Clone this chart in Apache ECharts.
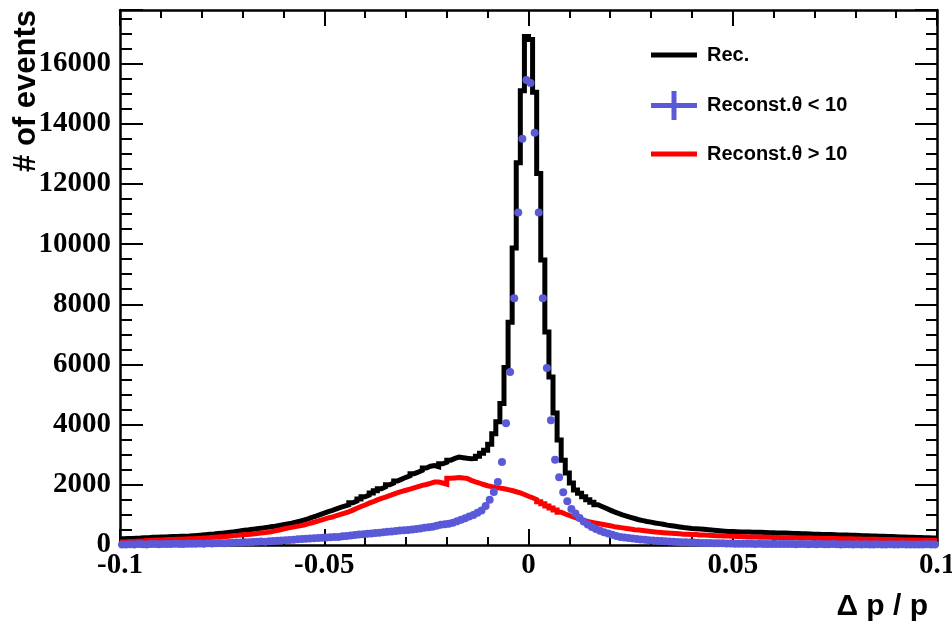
<!DOCTYPE html>
<html><head><meta charset="utf-8">
<script src="https://cdn.jsdelivr.net/npm/echarts@6/dist/echarts.min.js"></script>
<style>html,body{margin:0;padding:0;background:#fff}#c{width:952px;height:625px}</style>
</head><body><div id="c"></div>
<script>
// Histogram binning of Δp/p : 200 bins of width 0.001 from -0.1 to 0.1
const binStart = -0.1;
const binWidth = 0.001;

// "Rec." (black histogram)
const recCounts = [
 210,215,220,225,230,240,245,255,260,265,
 270,275,280,285,290,295,300,310,320,330,
 345,355,365,380,395,410,425,440,460,480,
 495,515,530,550,565,585,605,625,650,675,
 700,725,755,790,830,870,915,960,1010,1060,
 1110,1150,1200,1250,1290,1330,1400,1460,1530,1600,
 1660,1730,1800,1870,1930,2000,2060,2130,2190,2250,
 2300,2370,2420,2480,2560,2620,2640,2600,2700,2750,
 2820,2880,2920,2900,2880,2870,2880,2950,3050,3150,
 3350,3700,4100,4700,5900,7400,9870,12700,15100,16900,
 16800,15050,12350,9470,7080,5580,4390,3490,2820,2390,
 2060,1830,1720,1600,1500,1420,1340,1280,1220,1160,
 1100,1050,1000,960,920,880,840,810,780,760,
 730,710,690,660,640,620,600,580,565,550,
 540,530,520,510,495,485,470,460,450,445,
 440,435,430,430,425,420,420,415,410,405,
 400,400,395,390,385,380,375,370,365,360,
 355,350,345,345,340,335,330,330,325,320,
 315,310,305,300,300,295,290,285,280,275,
 270,265,260,255,250,250,245,240,235,230
];

// "Reconst.θ < 10" (blue points)
const lowThetaCounts = [
 20,15,25,20,30,25,20,30,35,25,
 30,35,30,40,35,30,40,45,40,50,
 45,55,50,60,65,60,70,75,80,85,
 90,95,100,105,115,110,125,130,140,150,
 160,170,175,190,200,205,215,225,230,240,
 250,255,265,270,290,300,315,330,345,360,
 375,385,400,410,425,440,450,465,480,490,
 500,515,530,550,570,590,610,640,670,690,
 710,740,790,840,890,950,1000,1070,1150,1300,
 1500,1760,2090,2760,4050,5750,8200,11050,13500,15450,
 15350,13700,11050,8200,5880,4150,2830,2250,1750,1450,
 1200,1050,900,780,680,600,530,470,420,380,
 340,300,270,250,230,215,200,185,175,160,
 150,140,130,125,120,110,100,95,90,85,
 80,75,70,70,65,60,60,55,50,50,
 45,45,40,45,40,35,40,35,35,30,
 35,30,30,35,30,25,30,30,25,30,
 25,30,25,25,30,25,20,25,25,20,
 25,20,25,20,20,25,20,20,25,20,
 20,25,20,20,15,20,20,25,20,20
];

// "Reconst.θ > 10" (red histogram)
const highThetaCounts = [
 100,110,120,125,135,140,150,160,165,170,
 175,180,185,190,195,200,205,210,220,225,
 235,245,255,265,275,285,300,315,325,340,
 350,360,375,390,405,420,440,470,500,530,
 560,585,610,635,665,700,740,780,820,860,
 900,930,980,1020,1060,1100,1160,1220,1280,1330,
 1390,1440,1500,1550,1590,1640,1690,1740,1780,1820,
 1860,1900,1940,1980,2010,2050,2090,2090,2060,2020,
 2220,2230,2240,2230,2210,2150,2100,2060,2010,1970,
 1940,1910,1890,1870,1840,1810,1770,1730,1680,1620,
 1570,1510,1440,1370,1300,1230,1160,1090,1030,980,
 930,880,830,800,770,740,715,690,665,640,
 610,590,570,550,530,510,495,480,465,450,
 435,420,410,400,390,380,370,360,355,350,
 345,335,330,320,315,310,305,300,295,290,
 285,280,275,270,270,265,260,255,255,250,
 250,245,245,240,240,235,235,230,230,225,
 225,220,220,215,215,210,210,205,205,200,
 200,195,195,190,190,185,185,180,180,175,
 175,170,170,165,165,160,160,155,155,150
];

const seriesNames = ['Rec.', 'Reconst.\u03b8 < 10', 'Reconst.\u03b8 > 10'];
const xTitle = '\u0394 p / p';
const yTitle = '# of events';

function stepData(counts) {
  const d = [];
  for (let i = 0; i < counts.length; i++) d.push([+(binStart + i * binWidth).toFixed(4), counts[i]]);
  d.push([+(binStart + counts.length * binWidth).toFixed(4), counts[counts.length - 1]]);
  return d;
}
function pointData(counts) {
  return counts.map((v, i) => [+(binStart + (i + 0.5) * binWidth).toFixed(5), v]);
}

const serif = "'Liberation Serif','Times New Roman',serif";
const sans = "'Liberation Sans',Arial,sans-serif";
const YMAX = 17780;
const BLUE = '#5a5ad8';

const baseX = {
  type: 'value', min: -0.1, max: 0.1, interval: 0.05,
  axisLine: { show: true, onZero: false, lineStyle: { color: '#000', width: 2.5 } },
  axisTick: { show: true, inside: true, length: 16, lineStyle: { color: '#000', width: 2 } },
  minorTick: { show: true, splitNumber: 5, length: 8, lineStyle: { color: '#000', width: 2 } },
  splitLine: { show: false }
};
const baseY = {
  type: 'value', min: 0, max: YMAX, interval: 2000,
  axisLine: { show: true, onZero: false, lineStyle: { color: '#000', width: 2.5 } },
  axisTick: { show: true, inside: true, length: 23, lineStyle: { color: '#000', width: 2 } },
  minorTick: { show: true, splitNumber: 4, length: 12, lineStyle: { color: '#000', width: 2 } },
  splitLine: { show: false }
};

const chart = echarts.init(document.getElementById('c'), null, { renderer: 'canvas' });
const legendText = { fontFamily: sans, fontWeight: 'bold', fontSize: 20, color: '#000', padding: [0, 0, 0, 5] };
chart.setOption({
  animation: false,
  backgroundColor: '#fff',
  grid: { left: 120, right: 15, top: 10, bottom: 80, containLabel: false, outerBoundsMode: 'none' },
  xAxis: [
    Object.assign({}, baseX, {
      position: 'bottom',
      axisLabel: {
        show: true, margin: 6, color: '#000', fontFamily: serif, fontWeight: 'bold', fontSize: 29,
        showMinLabel: true, showMaxLabel: true,
        formatter: v => String(parseFloat((+v).toFixed(3)))
      },
      name: xTitle, nameLocation: 'end', nameGap: -9,
      nameTextStyle: { fontFamily: sans, fontWeight: 'bold', fontSize: 30, color: '#000', align: 'right', verticalAlign: 'top', padding: [47, 0, 0, 0] }
    }),
    Object.assign({}, baseX, { position: 'top', axisLabel: { show: false } })
  ],
  yAxis: [
    Object.assign({}, baseY, {
      position: 'left',
      axisLabel: {
        show: true, margin: 9, color: '#000', fontFamily: serif, fontWeight: 'bold', fontSize: 29,
        showMinLabel: true, showMaxLabel: false,
        formatter: v => String(Math.round(v))
      }
    }),
    Object.assign({}, baseY, { position: 'right', axisTick: Object.assign({}, baseY.axisTick, { length: 22 }), minorTick: Object.assign({}, baseY.minorTick, { length: 11 }), axisLabel: { show: false } })
  ],
  graphic: [
    {
      type: 'text', x: 26, y: 10, rotation: Math.PI / 2,
      style: { text: yTitle, fontFamily: sans, fontWeight: 'bold', fontSize: 31, fill: '#000', align: 'right', verticalAlign: 'middle' }
    }
  ],
  legend: [
    { data: [{ name: seriesNames[0], icon: 'rect' }], left: 651, top: 45, itemWidth: 46, itemHeight: 5, padding: 0, selectedMode: false, textStyle: legendText },
    { data: [{ name: seriesNames[1], icon: 'path://M0,12h46v5H0z M20.5,0h5v29h-5z', itemStyle: { color: BLUE, opacity: 1 } }], left: 651, top: 91, itemWidth: 46, itemHeight: 29, padding: 0, selectedMode: false, textStyle: legendText },
    { data: [{ name: seriesNames[2], icon: 'rect' }], left: 651, top: 144, itemWidth: 46, itemHeight: 5, padding: 0, selectedMode: false, textStyle: legendText }
  ],
  series: [
    {
      name: seriesNames[0], type: 'line', step: 'end', data: stepData(recCounts),
      xAxisIndex: 0, yAxisIndex: 0, showSymbol: false, symbol: 'none', color: '#000',
      lineStyle: { color: '#000', width: 5, join: 'miter' }, z: 2
    },
    {
      name: seriesNames[2], type: 'line', step: 'end', data: stepData(highThetaCounts),
      xAxisIndex: 0, yAxisIndex: 0, showSymbol: false, symbol: 'none', color: '#ff0000',
      lineStyle: { color: '#ff0000', width: 5, join: 'miter' }, z: 3
    },
    {
      name: seriesNames[1], type: 'scatter', data: pointData(lowThetaCounts),
      xAxisIndex: 0, yAxisIndex: 0, symbol: 'circle', symbolSize: 8, color: BLUE,
      itemStyle: { color: BLUE, opacity: 1 }, z: 4
    }
  ]
});
</script></body></html>
